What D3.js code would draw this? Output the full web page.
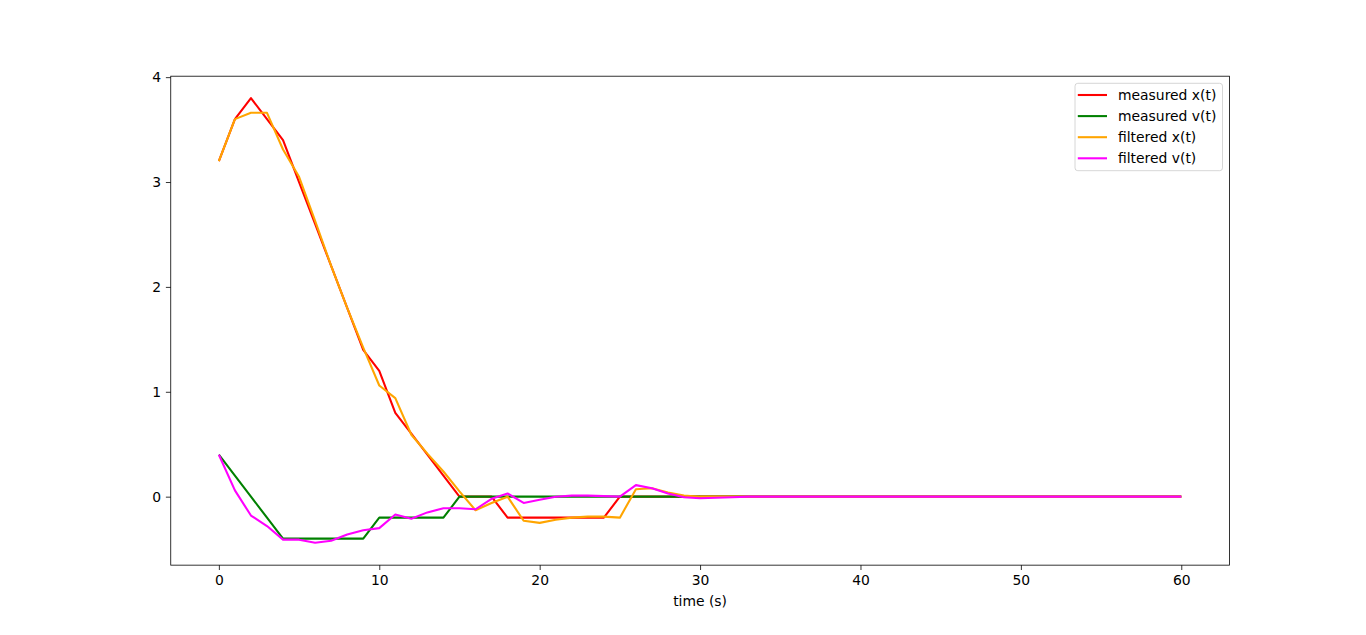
<!DOCTYPE html>
<html>
<head>
<meta charset="utf-8">
<script src="https://cdn.jsdelivr.net/npm/d3@7"></script>
<style>
html,body{margin:0;padding:0;background:#fff;}
svg{display:block;font-family:"DejaVu Sans",sans-serif;}
</style>
</head>
<body>
<svg id="chart" width="1366" height="635"></svg>
<script>
const time = [0,1,2,3,4,5,6,7,8,9,10,11,12,13,14,15,16,17,18,19,20,21,22,23,24,25,26,27,28,29,30,31,32,33,34,35,36,37,38,39,40,41,42,43,44,45,46,47,48,49,50,51,52,53,54,55,56,57,58,59,60];
const measuredX = [3.2,3.6,3.8,3.6,3.4,3.0,2.6,2.2,1.8,1.4,1.2,0.8,0.6,0.4,0.2,0.0,0.0,0.0,-0.2,-0.2,-0.2,-0.2,-0.2,-0.2,-0.2,0.0,0,0,0,0,0,0,0,0,0,0,0,0,0,0,0,0,0,0,0,0,0,0,0,0,0,0,0,0,0,0,0,0,0,0,0];
const measuredV = [0.4,0.2,0.0,-0.2,-0.4,-0.4,-0.4,-0.4,-0.4,-0.4,-0.2,-0.2,-0.2,-0.2,-0.2,0.0,0,0,0,0,0,0,0,0,0,0,0,0,0,0,0,0,0,0,0,0,0,0,0,0,0,0,0,0,0,0,0,0,0,0,0,0,0,0,0,0,0,0,0,0,0];
const filteredX = [3.2,3.6,3.66,3.66,3.31,3.05,2.63,2.2,1.8,1.42,1.06,0.94,0.59,0.41,0.24,0.05,-0.13,-0.06,0.0,-0.23,-0.25,-0.22,-0.2,-0.19,-0.19,-0.2,0.07,0.08,0.04,0.01,0.0,0,0,0,0,0,0,0,0,0,0,0,0,0,0,0,0,0,0,0,0,0,0,0,0,0,0,0,0,0,0];
const filteredV = [0.4,0.06,-0.18,-0.28,-0.41,-0.41,-0.44,-0.42,-0.36,-0.32,-0.3,-0.17,-0.21,-0.15,-0.11,-0.11,-0.12,-0.02,0.03,-0.06,-0.03,0.0,0.01,0.01,0.005,0.0,0.11,0.08,0.03,-0.005,-0.015,-0.01,-0.005,0,0,0,0,0,0,0,0,0,0,0,0,0,0,0,0,0,0,0,0,0,0,0,0,0,0,0,0];
const seriesNames = ["measured x(t)","measured v(t)","filtered x(t)","filtered v(t)"];
const seriesColors = ["#ff0000","#008000","#ffa500","#ff00ff"];
const xTicks = [0,10,20,30,40,50,60];
const yTicks = [0,1,2,3,4];
const xLabel = "time (s)";

const series = [measuredX, measuredV, filteredX, filteredV];
const svg = d3.select("#chart");
const L = 170.75, R = 1229.4, T = 76.2, B = 565.15;
const xs = d3.scaleLinear().domain([-3, 63]).range([L, R]);
const ys = d3.scaleLinear().domain([-0.653, 4.009]).range([B, T]);
const fs = 13.9;

const g = svg.append("g");
const line = d3.line().x((d,i)=>xs(time[i])).y(d=>ys(d));
series.forEach((s,k)=>{
  g.append("path").datum(s).attr("d", line)
   .attr("fill","none").attr("stroke", seriesColors[k])
   .attr("stroke-width",2.08).attr("stroke-linejoin","round").attr("stroke-linecap","butt");
});

// spines
svg.append("rect").attr("x",L).attr("y",T).attr("width",R-L).attr("height",B-T)
  .attr("fill","none").attr("stroke","#000").attr("stroke-width",0.8);

const xAxis = svg.append("g").attr("transform",`translate(0,${B})`)
  .call(d3.axisBottom(xs).tickValues(xTicks).tickSize(4.86).tickPadding(4.86).tickFormat(d3.format("d")));
const yAxis = svg.append("g").attr("transform",`translate(${L},0)`)
  .call(d3.axisLeft(ys).tickValues(yTicks).tickSize(4.86).tickPadding(4.86).tickFormat(d3.format("d")));
[xAxis,yAxis].forEach(a=>{
  a.select(".domain").remove();
  a.selectAll(".tick line").attr("stroke","#000").attr("stroke-width",0.8);
  a.selectAll(".tick text").attr("fill","#000").style("font-size",fs+"px").style("font-family","DejaVu Sans");
});

svg.append("text").attr("x",(L+R)/2).attr("y",606).attr("text-anchor","middle")
  .style("font-size",fs+"px").attr("fill","#000").text(xLabel);

// legend
const lg = svg.append("g");
const boxL = 1075, boxR = 1222.5, boxT = 83.3, boxB = 170.7;
lg.append("rect").attr("x",boxL).attr("y",boxT).attr("width",boxR-boxL).attr("height",boxB-boxT)
  .attr("rx",2.8).attr("fill","#fff").attr("fill-opacity",0.8).attr("stroke","#cccccc").attr("stroke-width",0.8);
seriesNames.forEach((n,k)=>{
  const yy = 95 + k*21.1;
  lg.append("line").attr("x1",1077.8).attr("x2",1107).attr("y1",yy).attr("y2",yy)
    .attr("stroke",seriesColors[k]).attr("stroke-width",2.08);
  lg.append("text").attr("x",1118).attr("y",yy).attr("dy","0.36em")
    .style("font-size",fs+"px").attr("fill","#000").text(n);
});
</script>
</body>
</html>
